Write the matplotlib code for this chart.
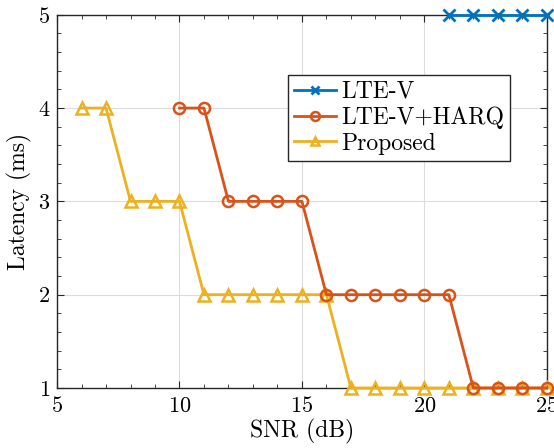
import matplotlib
matplotlib.use('Agg')
import matplotlib.pyplot as plt
from matplotlib.ticker import MultipleLocator

plt.rcParams['font.family'] = 'cmr10'
plt.rcParams['axes.formatter.use_mathtext'] = True

# Data
snr_ltev = [21, 22, 23, 24, 25]
lat_ltev = [5, 5, 5, 5, 5]

snr_harq = [10, 11, 12, 13, 14, 15, 16, 17, 18, 19, 20, 21, 22, 23, 24, 25]
lat_harq = [4, 4, 3, 3, 3, 3, 2, 2, 2, 2, 2, 2, 1, 1, 1, 1]

snr_prop = [6, 7, 8, 9, 10, 11, 12, 13, 14, 15, 16, 17, 18, 19, 20, 21, 22, 23, 24, 25]
lat_prop = [4, 4, 3, 3, 3, 2, 2, 2, 2, 2, 2, 1, 1, 1, 1, 1, 1, 1, 1, 1]

fig = plt.figure(figsize=(5.54, 4.48), dpi=100)
ax = fig.add_axes([0.103, 0.134, 0.884, 0.833])

ax.plot(snr_ltev, lat_ltev, color='#0072BD', marker='x', lw=2, ms=8, mew=2,
        label='LTE-V', clip_on=False, zorder=5)
ax.plot(snr_harq, lat_harq, color='#D95319', marker='o', lw=2, ms=8, mew=1.8,
        mfc='none', label='LTE-V+HARQ', clip_on=False, zorder=4)
ax.plot(snr_prop, lat_prop, color='#EDB120', marker='^', lw=2, ms=8, mew=1.8,
        mfc='none', label='Proposed', clip_on=False, zorder=3)

ax.set_xlim(5, 25)
ax.set_ylim(1, 5)
ax.xaxis.set_major_locator(MultipleLocator(5))
ax.xaxis.set_minor_locator(MultipleLocator(1))
ax.yaxis.set_major_locator(MultipleLocator(1))
ax.yaxis.set_minor_locator(MultipleLocator(0.2))
ax.tick_params(which='both', direction='in', top=True, right=True, labelsize=16,
               color='#262626')
ax.tick_params(which='major', length=5)
ax.tick_params(which='minor', length=3)
ax.tick_params(axis='x', pad=6)
ax.tick_params(axis='y', pad=5)
ax.grid(True, which='major', color='#dddddd', lw=0.8)
for s in ax.spines.values():
    s.set_color('#262626')
    s.set_linewidth(1)

ax.set_xlabel('SNR (dB)', fontsize=17, labelpad=2)
ax.set_ylabel('Latency (ms)', fontsize=17, labelpad=4)

leg = ax.legend(loc='upper left', bbox_to_anchor=(0.471, 0.839), fontsize=17,
                fancybox=False, framealpha=1, edgecolor='#262626',
                handlelength=1.8, borderpad=0.25, labelspacing=0.15,
                handletextpad=0.2, borderaxespad=0, markerscale=0.8)
leg.get_frame().set_linewidth(1)

fig.savefig('out.png', dpi=100)
